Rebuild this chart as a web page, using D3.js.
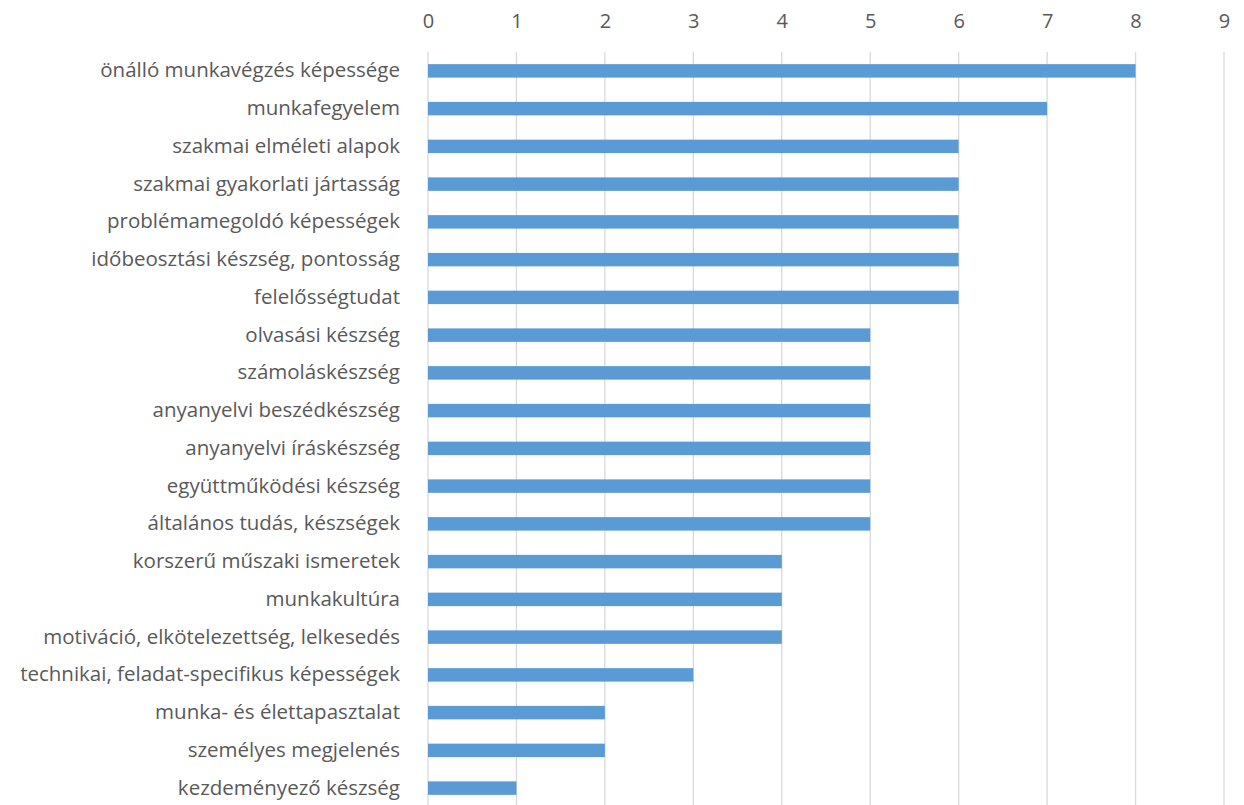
<!DOCTYPE html>
<html>
<head>
<meta charset="utf-8">
<script src="https://cdn.jsdelivr.net/npm/d3@7"></script>
<style>
  body { margin: 0; background: #fff; }
  text { font-family: "Open Sans", "Noto Sans", sans-serif; fill: #595959; }
</style>
</head>
<body>
<div id="chart"></div>
<script>
// categories and values, top to bottom
var categories = [
  'önálló munkavégzés képessége',
  'munkafegyelem',
  'szakmai elméleti alapok',
  'szakmai gyakorlati jártasság',
  'problémamegoldó képességek',
  'időbeosztási készség, pontosság',
  'felelősségtudat',
  'olvasási készség',
  'számoláskészség',
  'anyanyelvi beszédkészség',
  'anyanyelvi íráskészség',
  'együttműködési készség',
  'általános tudás, készségek',
  'korszerű műszaki ismeretek',
  'munkakultúra',
  'motiváció, elkötelezettség, lelkesedés',
  'technikai, feladat-specifikus képességek',
  'munka- és élettapasztalat',
  'személyes megjelenés',
  'kezdeményező készség'
];
var values = [8, 7, 6, 6, 6, 6, 6, 5, 5, 5, 5, 5, 5, 4, 4, 4, 3, 2, 2, 1];
var tickValues = [0, 1, 2, 3, 4, 5, 6, 7, 8, 9];

var svgWidth = 1244;
var svgHeight = 805;
var margin = { top: 52, right: 20, bottom: -2, left: 428 };
var width = 1224 - margin.left;
var height = svgHeight - margin.top - margin.bottom;

var svg = d3.select('#chart').append('svg')
  .attr('width', svgWidth)
  .attr('height', svgHeight);

var g = svg.append('g')
  .attr('transform', `translate(${margin.left}, ${margin.top})`);

var x = d3.scaleLinear().domain([0, 9]).range([0, width]);
var y = d3.scaleBand().domain(categories).range([0, height])
  .paddingInner(0.643).paddingOuter(0.3215);

// gridlines
g.selectAll('.grid')
  .data(tickValues)
  .enter()
  .append('line')
  .attr('x1', d => x(d)).attr('x2', d => x(d))
  .attr('y1', 0).attr('y2', svgHeight)
  .attr('stroke', '#d9d9d9')
  .attr('stroke-width', 1.3);

// top axis labels
var xAxis = d3.axisTop(x).tickValues(tickValues).tickSize(0).tickPadding(0);
var xg = g.append('g').attr('transform', 'translate(0, -24)').call(xAxis);
xg.select('.domain').remove();
xg.selectAll('text').attr('font-size', '20px').attr('fill', '#595959')
  .attr('font-family', '"Open Sans", sans-serif');

// bars
g.selectAll('.bar')
  .data(values)
  .enter()
  .append('rect')
  .attr('x', 0)
  .attr('y', (d, i) => y(categories[i]))
  .attr('width', d => x(d))
  .attr('height', y.bandwidth())
  .attr('fill', '#5b9bd5');

// category labels
var yAxis = d3.axisLeft(y).tickSize(0).tickPadding(28);
var yg = g.append('g').call(yAxis);
yg.select('.domain').remove();
yg.selectAll('text').attr('font-size', '20.5px').attr('fill', '#595959')
  .attr('font-family', '"Open Sans", sans-serif');
</script>
</body>
</html>
